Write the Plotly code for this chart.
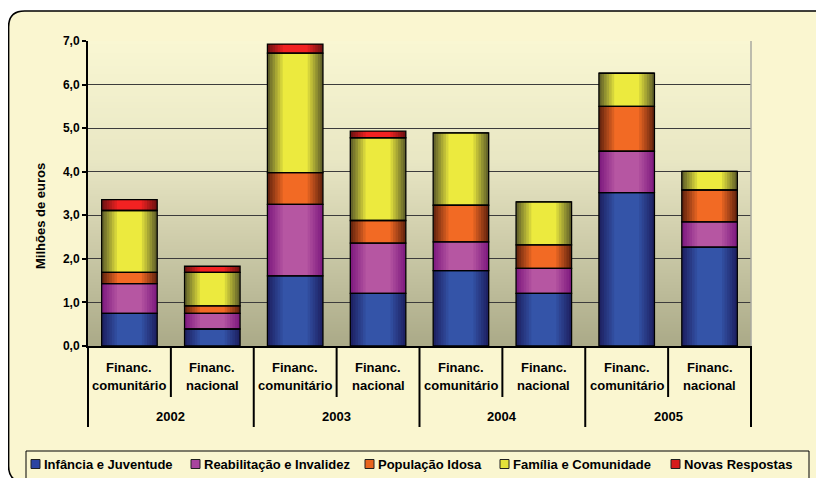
import numpy as np
import plotly.graph_objects as go

# ---------------- data ----------------
years = ["2002", "2003", "2004", "2005"]
fin_line1 = ["Financ.", "Financ."]
fin_line2 = ["comunitário", "nacional"]
series_names = ["Infância e Juventude", "Reabilitação e Invalidez", "População Idosa",
                "Família e Comunidade", "Novas Respostas"]
infancia = [0.75, 0.39, 1.61, 1.21, 1.73, 1.21, 3.52, 2.27]
reabilitacao = [0.68, 0.36, 1.64, 1.15, 0.66, 0.57, 0.95, 0.58]
pop_idosa = [0.26, 0.17, 0.73, 0.52, 0.84, 0.54, 1.03, 0.73]
familia = [1.42, 0.77, 2.74, 1.90, 1.66, 0.99, 0.76, 0.43]
novas = [0.25, 0.14, 0.21, 0.15, 0.0, 0.0, 0.0, 0.0]
y_ticks = [0, 1, 2, 3, 4, 5, 6, 7]

# ---------------- styles ----------------
edge_cols = [(30, 34, 100), (128, 28, 128), (105, 38, 15), (100, 100, 42), (115, 18, 18)]
center_cols = [(52, 84, 168), (182, 86, 162), (242, 106, 36), (236, 234, 62), (242, 34, 34)]
legend_cols = ["#2C44A2", "#A8449E", "#E8641E", "#E4E23A", "#D81C1C"]
CREAM = "#FAF6D0"
FONT = "Liberation Sans, Arial, sans-serif"
# plot background gradient stops: position from top (0) to bottom (1)
bg_stops = [(0.0, (249, 247, 211)), (0.4, (232, 230, 195)), (1.0, (170, 169, 136))]

OFF = 8  # page body margin
W_PX, H_PX = 816, 470
L, T = 88 - OFF, 41 - OFF
R = W_PX - (751 - OFF)
B = H_PX - (346 - OFF)
PW, PH = W_PX - L - R, H_PX - T - B


def PX(x):  # reference-image pixel -> paper x
    return (x - OFF - L) / PW


def PY(y):  # reference-image pixel -> paper y
    return (H_PX - B - (y - OFF)) / PH


def lerp(a, b, t):
    return tuple(a[i] + (b[i] - a[i]) * t for i in range(3))


def rgb(c):
    return "rgb(%d,%d,%d)" % tuple(round(v) for v in c)


def grad_color(stops, t):
    for j in range(len(stops) - 1):
        t0, c0 = stops[j]
        t1, c1 = stops[j + 1]
        if t0 <= t <= t1:
            return lerp(c0, c1, (t - t0) / (t1 - t0))
    return stops[-1][1]


series = [infancia, reabilitacao, pop_idosa, familia, novas]
n = len(infancia)
x = np.arange(n)
vals = np.array(series, dtype=float)
bases = np.vstack([np.zeros(n), np.cumsum(vals, axis=0)[:-1]])

fig = go.Figure()
BW = 0.67
layers = 7
for s in range(len(series)):
    for k in range(layers):
        t = k / (layers - 1)
        fig.add_bar(x=x, y=vals[s], base=bases[s], width=BW * (1 - 0.55 * t),
                    marker=dict(color=rgb(lerp(edge_cols[s], center_cols[s], t)), line=dict(width=0), opacity=1),
                    showlegend=False, hoverinfo="skip")
for s in range(len(series)):
    fig.add_bar(x=x, y=vals[s], base=bases[s], width=BW, name=series_names[s],
                marker=dict(color="rgba(0,0,0,0)", line=dict(color="black", width=1.3)),
                showlegend=False)

shapes = []
# cream rounded frame (page background stays white outside it)
fx0, fy0, fy1, rr = 8.6, 11, 482, 16
frame = "M %f,%f L %f,%f Q %f,%f %f,%f L %f,%f Q %f,%f %f,%f L %f,%f Z" % (
    PX(900), PY(fy0), PX(fx0 + rr), PY(fy0), PX(fx0), PY(fy0), PX(fx0), PY(fy0 + rr),
    PX(fx0), PY(fy1 - rr), PX(fx0), PY(fy1), PX(fx0 + rr), PY(fy1), PX(900), PY(fy1))
shapes.append(dict(type="path", xref="paper", yref="paper", path=frame, fillcolor=CREAM,
                   line=dict(color="black", width=1.6), layer="below"))

# legend box (manual)
shapes.append(dict(type="rect", xref="paper", yref="paper", x0=PX(26), x1=PX(809), y0=PY(451), y1=PY(495),
                   fillcolor=CREAM, line=dict(color="black", width=1), layer="below"))

# plot-area background gradient: thin, slightly overlapping bands (below the grid)
nb = 100
for k in range(nb):
    ytop = 1 - k / nb
    ybot = max(0.0, 1 - (k + 1.5) / nb)
    c = grad_color(bg_stops, (k + 0.5) / nb)
    shapes.append(dict(type="rect", xref="paper", yref="paper", x0=0, x1=1, y0=ybot, y1=ytop,
                       fillcolor=rgb(c), line=dict(width=0), layer="below"))

# right border of plot area
shapes.append(dict(type="line", xref="paper", yref="paper", x0=1, x1=1, y0=0, y1=1,
                   line=dict(color="#A8A8A0", width=1.5), layer="above"))

# category dividers under the x axis
inner_y, outer_y = PY(397), PY(427)
for i in range(n + 1):
    xp = i / n
    yb = outer_y if i % 2 == 0 else inner_y
    shapes.append(dict(type="line", xref="paper", yref="paper", x0=xp, x1=xp, y0=0, y1=yb,
                       line=dict(color="black", width=2), layer="above"))

annotations = []
lab_font = dict(family=FONT, size=13, color="black", weight="bold")
# category labels (two lines)
for i in range(n):
    annotations.append(dict(text=fin_line1[i % 2], xref="x", yref="paper", x=i, y=PY(367),
                            xanchor="center", yanchor="middle", showarrow=False, font=lab_font))
    annotations.append(dict(text=fin_line2[i % 2], xref="x", yref="paper", x=i, y=PY(385),
                            xanchor="center", yanchor="middle", showarrow=False, font=lab_font))
# year labels
for j, yr in enumerate(years):
    annotations.append(dict(text=yr, xref="x", yref="paper", x=2 * j + 0.5, y=PY(416),
                            xanchor="center", yanchor="middle", showarrow=False, font=lab_font))
# y axis title
annotations.append(dict(text="Milhões de euros", xref="paper", yref="paper", x=PX(40), y=PY(216),
                        textangle=-90, xanchor="center", yanchor="middle", showarrow=False, font=lab_font))

legend_x = [43, 203, 377, 512, 683]
for s, name in enumerate(series_names):
    shapes.append(dict(type="rect", xref="paper", yref="paper", x0=PX(legend_x[s] - 12), x1=PX(legend_x[s] - 3),
                       y0=PY(468.5), y1=PY(459.5), fillcolor=legend_cols[s],
                       line=dict(color="#202020", width=1), layer="above"))
    annotations.append(dict(text=name, xref="paper", yref="paper", x=PX(legend_x[s] - 1), y=PY(464),
                            xanchor="left", yanchor="middle", showarrow=False, font=lab_font))

fig.update_layout(
    width=W_PX, height=H_PX, margin=dict(l=L, r=R, t=T, b=B, autoexpand=False),
    paper_bgcolor="rgba(0,0,0,0)", plot_bgcolor="rgba(0,0,0,0)",
    barmode="overlay", separators=",.",
    shapes=shapes, annotations=annotations,
    xaxis=dict(range=[-0.5, n - 0.5], showticklabels=False,
               ticks="", showgrid=False, zeroline=False, showline=True, linecolor="black", linewidth=2,
               fixedrange=True),
    yaxis=dict(range=[0, 7], tickvals=y_ticks, tickformat=".1f",
               ticks="outside", ticklen=4, tickwidth=2,
               tickcolor="black", showgrid=True, gridcolor="#3C3C3C", gridwidth=1, zeroline=False,
               showline=True, linecolor="black", linewidth=2,
               tickfont=dict(family=FONT, size=12, color="black", weight="bold"), fixedrange=True),
    font=dict(family=FONT, size=12, color="black"),
)

fig.write_html("out.html")
